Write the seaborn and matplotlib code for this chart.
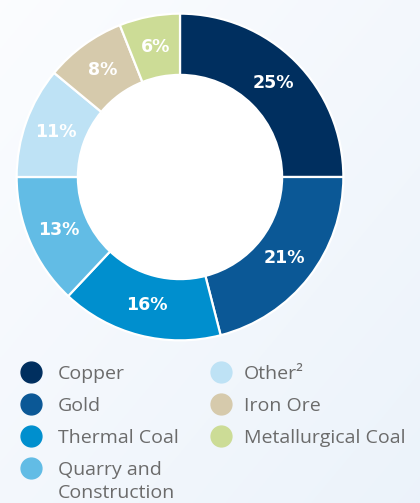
import numpy as np
import matplotlib
matplotlib.use("Agg")
import matplotlib.pyplot as plt
from matplotlib.lines import Line2D
import seaborn as sns

# Data
categories = ["Copper", "Gold", "Thermal Coal", "Quarry and\nConstruction",
              "Other²", "Iron Ore", "Metallurgical Coal"]
shares = [25, 21, 16, 13, 11, 8, 6]
colors = ["#002f5f", "#0b5896", "#008fce", "#62bce5", "#bee2f5", "#d6caac", "#ccdc96"]

sns.set_theme(style="white")
plt.rcParams["font.family"] = ["Open Sans", "DejaVu Sans"]

W, H = 420, 503
fig = plt.figure(figsize=(W / 100, H / 100), dpi=100)

# soft gradient background
bg = fig.add_axes([0, 0, 1, 1], zorder=-10)
yy, xx = np.mgrid[0:1:200j, 0:1:200j]
g = 0.5 * xx + 0.5 * yy
c0 = np.array([0.985, 0.99, 1.0])
c1 = np.array([0.925, 0.952, 0.982])
img = c0[None, None, :] * (1 - g[..., None]) + c1[None, None, :] * g[..., None]
bg.imshow(img, aspect="auto", extent=[0, 1, 0, 1], origin="upper")
bg.axis("off")

# donut
ax = fig.add_axes([15 / W, (H - 342) / H, 330 / W, 330 / H])
wedges, texts, autotexts = ax.pie(
    shares, colors=colors, startangle=90, counterclock=False,
    autopct="%d%%", pctdistance=0.81, radius=1,
    wedgeprops=dict(width=0.375, edgecolor="white", linewidth=1.6),
    textprops=dict(color="white", fontsize=12.5, fontweight="bold",
                   family=["DejaVu Sans"]),
)
ax.add_patch(plt.Circle((0, 0), 0.625, color="white", zorder=0))
ax.set_xlim(-1.01, 1.01)
ax.set_ylim(-1.01, 1.01)
ax.set_aspect("equal")
ax.axis("off")

# legend, two columns of four rows (drawn item by item)
for i, (cat, c) in enumerate(zip(categories, colors)):
    col, row = divmod(i, 4)
    mx = [31, 221][col]
    tx = [58, 244][col]
    y = 372 + 32 * row
    fig.add_artist(Line2D([mx / W], [1 - y / H], marker="o", markersize=15,
                          markerfacecolor=c, markeredgecolor=c,
                          transform=fig.transFigure))
    for k, line in enumerate(cat.split("\n")):
        fig.text(tx / W, 1 - (y + 23 * k) / H, line, fontsize=14,
                 color="#6b6b6b", va="center_baseline", ha="left")

fig.savefig("out.png", dpi=100)
